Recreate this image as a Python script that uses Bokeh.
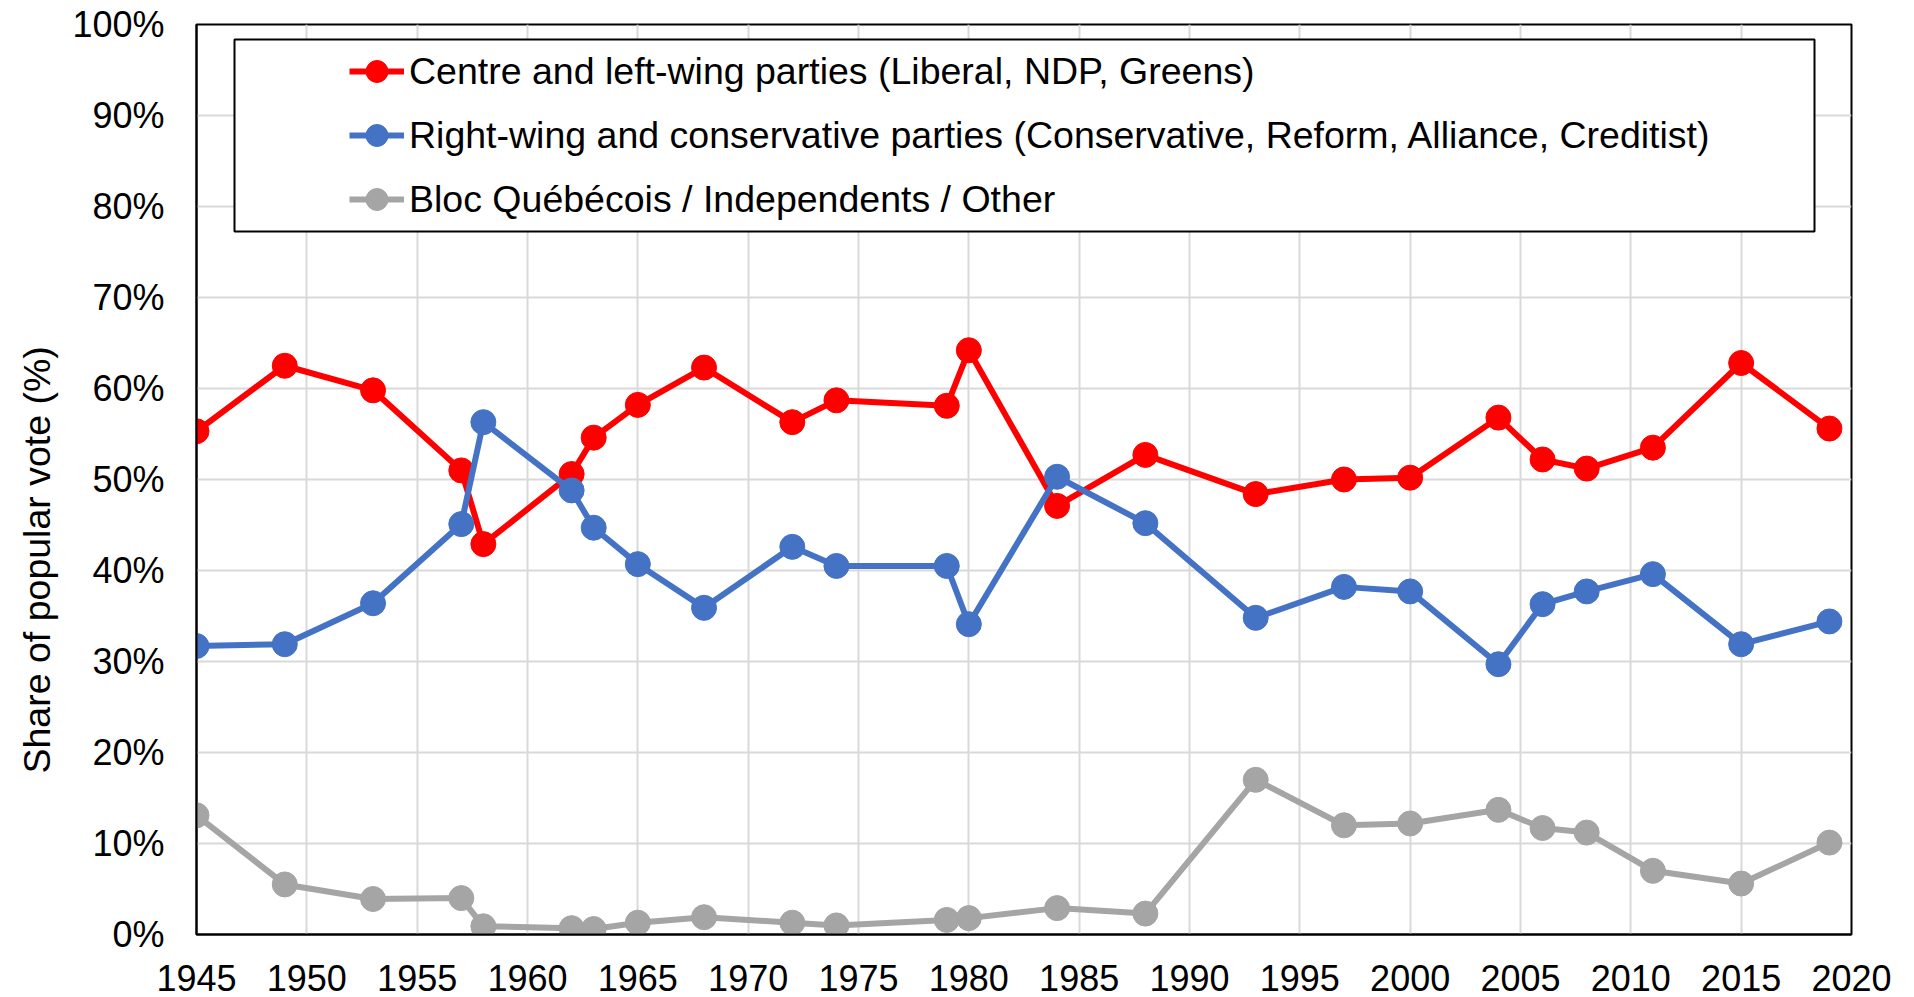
from bokeh.plotting import figure
from bokeh.models import (Range1d, FixedTicker, PrintfTickFormatter, Legend, LegendItem,
                          BoxAnnotation, Title)
from bokeh.embed import file_html
from bokeh.resources import INLINE

# ---- data ----
years = [1945, 1949, 1953, 1957, 1958, 1962, 1963, 1965, 1968, 1972, 1974, 1979,
         1980, 1984, 1988, 1993, 1997, 2000, 2004, 2006, 2008, 2011, 2015, 2019]
centre_left = [55.3, 62.5, 59.8, 51.0, 42.9, 50.6, 54.6, 58.2, 62.3, 56.3, 58.7, 58.1,
               64.2, 47.1, 52.7, 48.4, 50.0, 50.2, 56.8, 52.2, 51.2, 53.5, 62.8, 55.6]
right_wing = [31.7, 31.9, 36.4, 45.1, 56.3, 48.8, 44.7, 40.7, 35.9, 42.6, 40.5, 40.5,
              34.1, 50.3, 45.2, 34.8, 38.2, 37.7, 29.7, 36.3, 37.7, 39.6, 31.9, 34.4]
other = [13.1, 5.5, 3.9, 4.0, 0.9, 0.7, 0.6, 1.3, 1.9, 1.3, 1.0, 1.6,
         1.8, 2.9, 2.3, 17.0, 12.0, 12.2, 13.7, 11.7, 11.2, 7.0, 5.6, 10.1]

series_names = ["Centre and left-wing parties (Liberal, NDP, Greens)",
                "Right-wing and conservative parties (Conservative, Reform, Alliance, Creditist)",
                "Bloc Québécois / Independents / Other"]
series_colors = ["#FF0000", "#4472C4", "#A5A5A5"]
x_ticks = list(range(1945, 2021, 5))
y_ticks = list(range(0, 101, 10))
y_title = "Share of popular vote (%)"

FONT = "Liberation Sans"

p = figure(width=1914, height=997, x_range=Range1d(1945, 2020), y_range=Range1d(0, 100),
           output_backend="svg", toolbar_location=None,
           min_border_left=196, min_border_right=63, min_border_top=24, min_border_bottom=63)
p.title.visible = False
p.background_fill_color = "white"
p.border_fill_color = "white"
p.outline_line_color = "black"
p.outline_line_width = 2

# axes
p.xaxis.ticker = FixedTicker(ticks=x_ticks)
p.yaxis.ticker = FixedTicker(ticks=y_ticks)
p.yaxis.formatter = PrintfTickFormatter(format="%d%%")
for ax in (p.xaxis[0], p.yaxis[0]):
    ax.major_tick_out = 0
    ax.major_tick_in = 0
    ax.minor_tick_out = 0
    ax.minor_tick_in = 0
    ax.axis_line_color = "black"
    ax.axis_line_width = 2
    ax.major_label_text_font = FONT
    ax.major_label_text_font_size = "36px"
    ax.major_label_text_color = "black"
p.xaxis.major_label_standoff = 30
p.yaxis.major_label_standoff = 32

p.xgrid.ticker = FixedTicker(ticks=x_ticks)
p.ygrid.ticker = FixedTicker(ticks=y_ticks)
p.grid.grid_line_color = "#D9D9D9"
p.grid.grid_line_width = 2

# y-axis title, starting 161px above the bottom of the frame
p.add_layout(Title(text=y_title, align="left", offset=161, vertical_align="bottom",
                   standoff=24, text_font=FONT, text_font_size="37.5px",
                   text_font_style="normal", text_color="black"), "left")

items = []
for vals, name, col in zip([centre_left, right_wing, other], series_names, series_colors):
    lr = p.line(years, vals, line_color=col, line_width=6)
    sr = p.scatter(years, vals, size=25, fill_color=col, line_color=col, marker="circle")
    items.append(LegendItem(label=name, renderers=[lr, sr]))

box = BoxAnnotation(left=38, right=1618, bottom=703, top=895,
                    left_units="screen", right_units="screen",
                    bottom_units="screen", top_units="screen",
                    fill_color="white", fill_alpha=1.0,
                    line_color="black", line_alpha=1.0, line_width=2)
p.add_layout(box)

legend = Legend(items=items, location=(153, 703), padding=0, spacing=0,
                label_height=64, glyph_height=64, glyph_width=55, label_standoff=5,
                label_text_font=FONT, label_text_font_size="37.5px", label_text_color="black",
                border_line_alpha=0, background_fill_alpha=0, margin=0)
p.add_layout(legend)

open("out.html", "w").write(file_html(p, INLINE))
